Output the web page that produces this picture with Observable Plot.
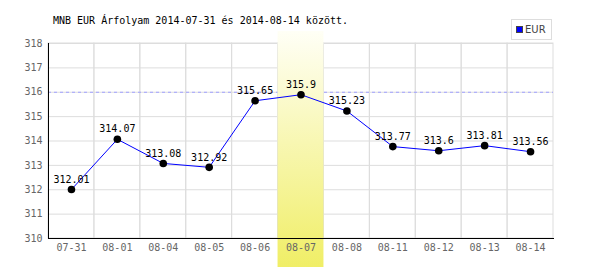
<!DOCTYPE html>
<html>
<head>
<meta charset="utf-8">
<script src="https://cdn.jsdelivr.net/npm/d3@7"></script>
<script src="https://cdn.jsdelivr.net/npm/@observablehq/plot@0.6"></script>
<style>
  body { margin: 0; background: #fff; }
  #wrap { position: relative; width: 600px; height: 270px; }
  #title { position: absolute; left: 53px; top: 15px; font: 10px "DejaVu Sans Mono", monospace; color: #000; white-space: nowrap; }
  #legend { position: absolute; left: 511px; top: 19px; width: 41px; height: 21px; border: 1px solid #ddd; box-sizing: border-box; font: 10px "DejaVu Sans", sans-serif; color: #444; }
  #legend .sw { position: absolute; left: 4px; top: 6px; width: 7px; height: 7px; background: #0000ff; border: 1px solid #444; box-sizing: border-box; }
  #legend .lb { position: absolute; left: 13px; top: 4px; }
  svg { display: block; }
</style>
</head>
<body>
<svg width="0" height="0" style="position:absolute">
  <defs>
    <linearGradient id="hl" x1="0" y1="0" x2="0" y2="1">
      <stop offset="0%" stop-color="#fffff6"/>
      <stop offset="100%" stop-color="#f0ee66"/>
    </linearGradient>
  </defs>
</svg>
<div id="wrap">
  <div id="chart"></div>
  <div id="title">MNB EUR Árfolyam 2014-07-31 és 2014-08-14 között.</div>
  <div id="legend"><div class="sw"></div><div class="lb">EUR</div></div>
</div>
<script>
const dates = ["07-31", "08-01", "08-04", "08-05", "08-06", "08-07", "08-08", "08-11", "08-12", "08-13", "08-14"];
const values = [312.01, 314.07, 313.08, 312.92, 315.65, 315.9, 315.23, 313.77, 313.6, 313.81, 313.56];
const labels = ["312.01", "314.07", "313.08", "312.92", "315.65", "315.9", "315.23", "313.77", "313.6", "313.81", "313.56"];
const yTicks = [310, 311, 312, 313, 314, 315, 316, 317, 318];
const refLine = [316];
const highlight = ["08-07"];

const data = dates.map((d, i) => ({date: d, value: values[i], label: labels[i]}));

const chart = Plot.plot({
  width: 600,
  height: 270,
  marginLeft: 48,
  marginRight: 47,
  marginTop: 43,
  marginBottom: 32,
  style: {fontFamily: "'DejaVu Sans Mono', monospace", fontSize: "10px", background: "white"},
  x: {type: "band", domain: dates, padding: 0, round: false, axis: null},
  y: {domain: [310, 318], axis: null},
  marks: [
    Plot.gridY(yTicks, {stroke: "#dddddd", strokeOpacity: 1}),
    Plot.cell(dates, {x: d => d, fill: "none", stroke: "#dddddd"}),
    Plot.ruleY(refLine, {stroke: "#a0a0ff", strokeDasharray: "3,3"}),
    Plot.cell(highlight, {x: d => d, fill: "url(#hl)", insetTop: -12, insetBottom: -29}),
    Plot.axisY(yTicks, {tickSize: 0, tickPadding: 6, fill: "#666", label: null}),
    Plot.axisX({tickSize: 0, tickPadding: 5, fill: "#666", label: null}),
    Plot.frame({anchor: "left", stroke: "#000"}),
    Plot.frame({anchor: "bottom", stroke: "#000"}),
    Plot.line(data, {x: "date", y: "value", stroke: "#0000ff", strokeWidth: 1}),
    Plot.dot(data, {x: "date", y: "value", r: 3.8, fill: "#000"}),
    Plot.text(data, {x: "date", y: "value", text: "label", dy: -10, fill: "#000", fontSize: 10})
  ]
});
document.getElementById("chart").appendChild(chart);
</script>
</body>
</html>
